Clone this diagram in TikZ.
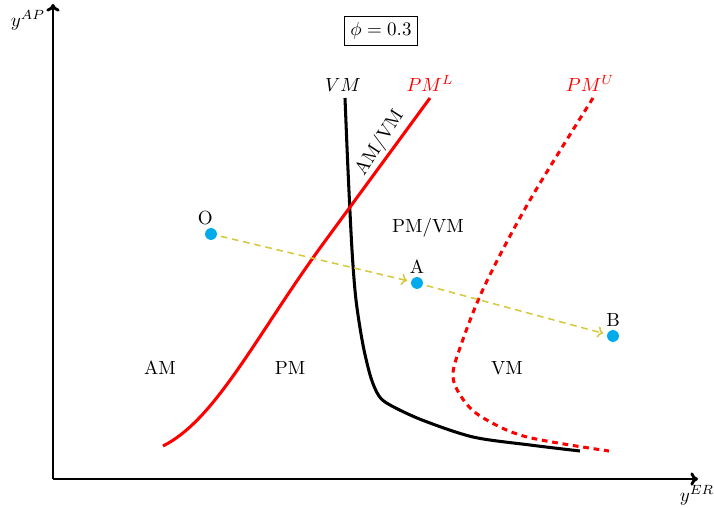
\documentclass[tikz,border=0pt]{standalone}
\usetikzlibrary{arrows.meta}
\definecolor{ptcyan}{RGB}{0,170,235}
\definecolor{flowyellow}{RGB}{212,200,60}
\begin{document}
\begin{tikzpicture}[x=0.525pt,y=-0.525pt,
  axis/.style={line width=1.5pt,-{To[length=4pt,width=7pt]}},
  dot/.style={circle,fill=ptcyan,inner sep=0pt,minimum size=6.2pt},
  flow/.style={flowyellow,line width=0.8pt,dash pattern=on 3.5pt off 2.5pt,-{To[length=3pt,width=6pt]},shorten >=2pt,shorten <=2pt},
  curveblack/.style={line width=1.6pt,black},
  curvered/.style={line width=1.6pt,red},
  lbl/.style={inner sep=1pt}]
\useasboundingbox (0,0) rectangle (714,508);
% axes
\coordinate (orig) at (53,479);
\coordinate (ytop) at (53,4);
\coordinate (xend) at (698,479);
\draw[axis] (orig) -- (ytop);
\draw[axis] (orig) -- (xend);
\node[lbl] (ylab) at (28,20) {$y^{AP}$};
\node[lbl] (xlab) at (697,495) {$y^{ER}$};
% title
\node[draw,inner sep=3pt] (phi) at (381,31) {$\phi=0.3$};
% curve labels
\node[lbl] (vmlab) at (343,85) {$VM$};
\node[lbl,red] (pmllab) at (430,83) {$PM^L$};
\node[lbl,red] (pmulab) at (590,83) {$PM^U$};
% VM curve
\draw[curveblack] plot[smooth,tension=0.5] coordinates {(345,98) (348,170) (352,250) (356,300) (363,345) (371,378) (379,396) (390,405) (422,420) (473,437) (530,445) (580,451)};
% PM^L curve
\draw[curvered] (430,98) -- (320,248) .. controls (255,338) and (215,420) .. (163,446);
% PM^U curve
\draw[curvered,dash pattern=on 3pt off 2.5pt] plot[smooth,tension=0.55] coordinates {(593,98) (530,200) (485,285) (461,345) (453,377) (465,402) (485,419) (527,437) (609,451)};
% region labels
\node[lbl,rotate=57] (amvm) at (380,143) {AM/VM};
\node[lbl] (pmvm) at (428,228) {PM/VM};
\node[lbl] (am) at (160,368) {AM};
\node[lbl] (pm) at (290,368) {PM};
\node[lbl] (vm) at (507,368) {VM};
% points
\node[dot] (O) at (211,234) {};
\node[dot] (A) at (417,283) {};
\node[dot] (B) at (613,336) {};
\node[lbl,anchor=south] (Olab) at ([xshift=-3pt,yshift=0.5pt]O.north) {O};
\node[lbl,anchor=south] (Alab) at ([yshift=0.5pt]A.north) {A};
\node[lbl,anchor=south] (Blab) at ([yshift=0.5pt]B.north) {B};
\draw[flow] (O) -- (A);
\draw[flow] (A) -- (B);
\end{tikzpicture}
\end{document}
